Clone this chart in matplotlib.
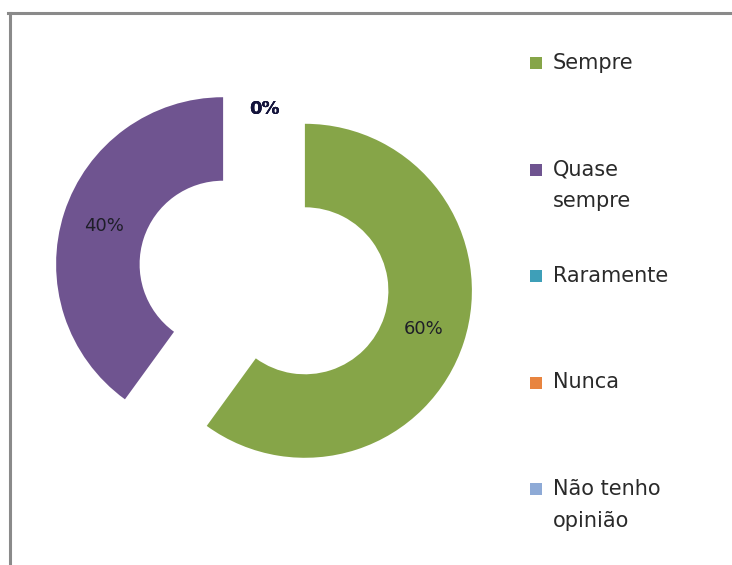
import matplotlib.pyplot as plt
from matplotlib.patches import Rectangle
from matplotlib.lines import Line2D

plt.rcParams['font.family'] = ['DejaVu Sans']

categories = ['Sempre', 'Quase\nsempre', 'Raramente', 'Nunca', 'Não tenho\nopinião']
values = [60, 40, 0, 0, 0]
colors = ['#86a548', '#6f5490', '#3e9fb8', '#e8843f', '#8eaad6']

W, H = 732, 565
fig = plt.figure(figsize=(W / 100, H / 100), dpi=100)
ax = fig.add_axes([0, 0, 1, 1])

# donut, every slice pulled out from the centre (explode is in data units here)
radius = 167
wedges, texts, autotexts = ax.pie(
    values, colors=colors, startangle=90, counterclock=False,
    center=(264, H - 277.5), radius=radius,
    explode=[43] * len(values),
    wedgeprops=dict(width=0.5 * radius, linewidth=0),
    autopct=lambda p: f'{p:.0f}%', pctdistance=0.75,
    textprops=dict(fontsize=13, color='#1e1e28'))

for t, v in zip(autotexts, values):
    if v == 0:
        t.set_fontweight('bold')
        t.set_color('#14143c')

ax.set_xlim(0, W)
ax.set_ylim(0, H)
ax.set_aspect('equal')
ax.set_axis_off()

# chart frame (top and left edges visible)
ax.add_line(Line2D([8, W], [H - 13, H - 13], color='#8a8a8a', lw=2.2))
ax.add_line(Line2D([9.5, 9.5], [0, H - 13], color='#8a8a8a', lw=2.2))

# legend on the right, one slot per category
y0, step = 63, 106.5
for i, (name, c) in enumerate(zip(categories, colors)):
    yc = H - (y0 + i * step)
    ax.add_patch(Rectangle((530, yc - 6), 12, 12, color=c, lw=0))
    ax.text(553, yc + 10, name, fontsize=15, color='#2a2a2a',
            va='top', ha='left', linespacing=1.72)

fig.savefig('out.png', dpi=100)
